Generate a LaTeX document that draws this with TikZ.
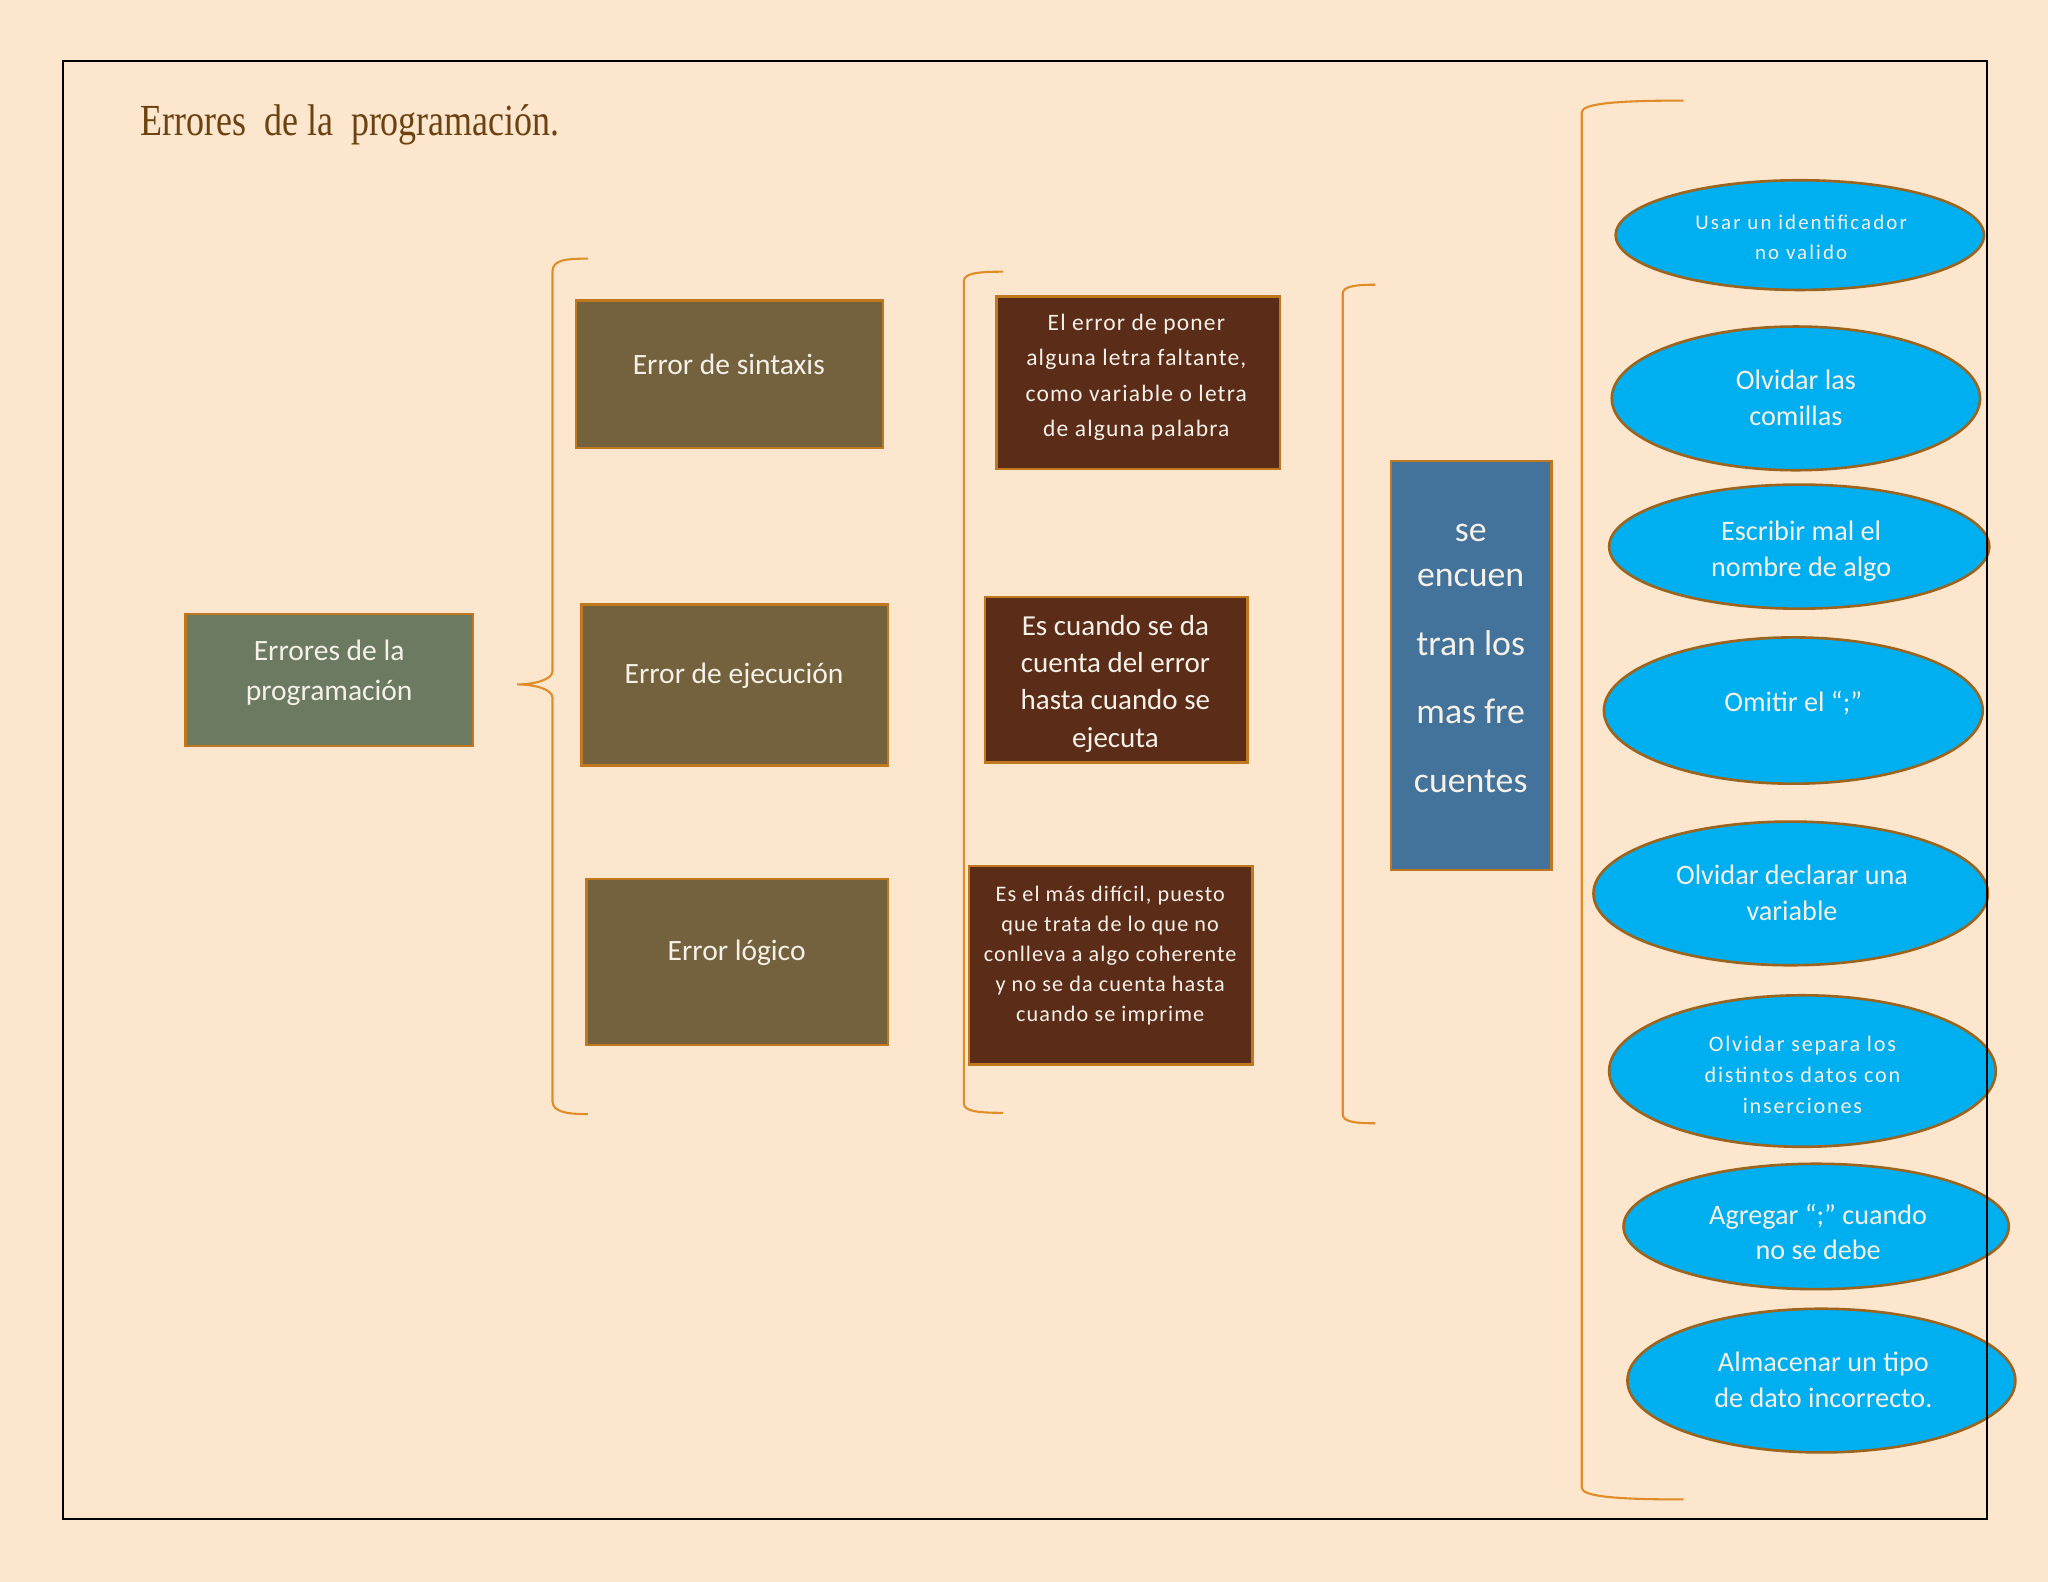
\documentclass[tikz,border=0pt]{standalone}
\usepackage{fontspec}
\setmainfont{Carlito}
\newfontfamily\titlefont{Liberation Serif}
\usetikzlibrary{shapes.geometric}
\definecolor{bg}{HTML}{FDE6CE}
\definecolor{bord}{HTML}{C0781E}
\definecolor{brk}{HTML}{E08C28}
\definecolor{olivegray}{HTML}{6B7A60}
\definecolor{olivebrown}{HTML}{74623F}
\definecolor{darkbrown}{HTML}{5B2C18}
\definecolor{steel}{HTML}{43729B}
\definecolor{cyanfill}{HTML}{00AFEF}
\definecolor{ellbord}{HTML}{9C641C}
\definecolor{titlec}{HTML}{6B4210}
\definecolor{wtxt}{HTML}{F6F1E8}
\newcommand\myfs[2]{\fontsize{#1}{#2}\selectfont}
\tikzset{
  boxshape/.style={rectangle, draw=bord, line width=1pt, inner sep=0pt},
  ellshape/.style={ellipse, draw=ellbord, fill=cyanfill, line width=1pt, inner sep=0pt},
  wt/.style={text=wtxt, align=center, inner sep=0pt},
  bracepath/.style={draw=brk, line width=0.8pt},
  ellbig/.style={wt, font=\myfs{10.8}{13.5}},
}
\begin{document}
\begin{tikzpicture}[x=0.5pt,y=-0.5pt]
\fill[bg] (0,0) rectangle (1568,1211);
\useasboundingbox (0,0) rectangle (1568,1211);

% brackets
\draw[bracepath] (450,198) .. controls (433,198) and (423,199) .. (423,208) -- (423,514)
  .. controls (423,520) and (410,524) .. (396,524)
  .. controls (410,524) and (423,528) .. (423,534) -- (423,843)
  .. controls (423,851) and (433,853) .. (450,853);
\draw[bracepath] (768,208) .. controls (750,208) and (738,209) .. (738,215) -- (738,845)
  .. controls (738,851) and (750,852) .. (768,852);
\draw[bracepath] (1053,218) .. controls (1038,218) and (1028,219) .. (1028,225) -- (1028,853)
  .. controls (1028,859) and (1038,860) .. (1053,860);
\draw[bracepath] (1289,77) .. controls (1240,77) and (1211,79) .. (1211,86) -- (1211,1139)
  .. controls (1211,1146) and (1240,1148) .. (1289,1148);

% main boxes
\node[boxshape, fill=olivegray, minimum width=110pt, minimum height=50.5pt] (root) at (252,520.5) {};
\node[wt, font=\myfs{11.3}{15.5}] (rootT) at (252,515) {Errores de la\\programación};

\node[boxshape, fill=olivebrown, minimum width=117.5pt, minimum height=56.5pt] (syn) at (558.5,286.5) {};
\node[wt, font=\myfs{11.3}{14}] (synT) at (558,279) {Error de sintaxis};

\node[boxshape, fill=olivebrown, minimum width=117.5pt, minimum height=61.5pt] (eje) at (562.5,524.5) {};
\node[wt, font=\myfs{11.3}{14}] (ejeT) at (562,517.5) {Error de ejecución};

\node[boxshape, fill=olivebrown, minimum width=115.5pt, minimum height=63.5pt] (log) at (564.5,736.5) {};
\node[wt, font=\myfs{11.3}{14}] (logT) at (564,729.5) {Error lógico};

% descriptions
\node[boxshape, fill=darkbrown, minimum width=108.5pt, minimum height=66pt] (d1) at (871.5,293) {};
\node[wt, font=\myfs{9}{13.5}\addfontfeatures{LetterSpace=5}] (d1T) at (870,289)
  {El error de poner\\alguna letra faltante,\\como variable o letra\\de alguna palabra};

\node[boxshape, fill=darkbrown, minimum width=100.5pt, minimum height=63.5pt] (d2) at (854.5,520.5) {};
\node[wt, font=\myfs{11.1}{14.25}] (d2T) at (854,523.5)
  {Es cuando se da\\cuenta del error\\hasta cuando se\\ejecuta};

\node[boxshape, fill=darkbrown, minimum width=108.5pt, minimum height=76pt] (d3) at (850.5,739) {};
\node[wt, font=\myfs{8.5}{11.5}\addfontfeatures{LetterSpace=5}] (d3T) at (850,731.5)
  {Es el más difícil, puesto\\que trata de lo que no\\conlleva a algo coherente\\y no se da cuenta hasta\\cuando se imprime};

% blue box
\node[boxshape, fill=steel, minimum width=61.5pt, minimum height=156.5pt] (freq) at (1126.5,509.5) {};
\node[wt, font=\myfs{13.7}{17.5}] (freqT) at (1126,504)
  {se\\encuen\\[8.75pt]tran los\\[8.75pt]mas fre\\[8.75pt]cuentes};

% ellipses
\node[ellshape, minimum width=141pt, minimum height=42pt] (e1) at (1378,180) {};
\node[wt, font=\myfs{8}{11.5}\addfontfeatures{LetterSpace=10}] (e1T) at (1379,182) {Usar un identificador\\no valido};

\node[ellshape, minimum width=141pt, minimum height=55pt] (e2) at (1375,305) {};
\node[ellbig] (e2T) at (1375,304.5) {Olvidar las\\comillas};

\node[ellshape, minimum width=145.5pt, minimum height=47.5pt] (e3) at (1377.5,418.5) {};
\node[ellbig] (e3T) at (1379,422) {Escribir mal el\\nombre de algo};

\node[ellshape, minimum width=145pt, minimum height=56pt] (e4) at (1373,544) {};
\node[ellbig] (e4T) at (1373,538) {Omitir el “;”};

\node[ellshape, minimum width=151pt, minimum height=55pt] (e5) at (1371,684) {};
\node[ellbig] (e5T) at (1372,683.5) {Olvidar declarar una\\variable};

\node[ellshape, minimum width=148pt, minimum height=58pt] (e6) at (1380,820) {};
\node[wt, font=\myfs{8.5}{12}\addfontfeatures{LetterSpace=8}] (e6T) at (1380,823) {Olvidar separa los\\distintos datos con\\inserciones};

\node[ellshape, minimum width=147.5pt, minimum height=48pt] (e7) at (1390.5,939) {};
\node[ellbig] (e7T) at (1392,943) {Agregar “;” cuando\\no se debe};

\node[ellshape, minimum width=148.5pt, minimum height=55pt] (e8) at (1394.5,1057) {};
\node[ellbig] (e8T) at (1396,1056.5) {Almacenar un tipo\\de dato incorrecto.};

% frame
\draw[black, line width=0.8pt] (48,47) rectangle (1521,1163);

% title
\node[anchor=base west, text=titlec, inner sep=0pt] (title) at (107,104)
  {\titlefont\myfs{17}{20}\scalebox{0.81}[1]{Errores\ \ de la\ \ programación.}};
\end{tikzpicture}
\end{document}
